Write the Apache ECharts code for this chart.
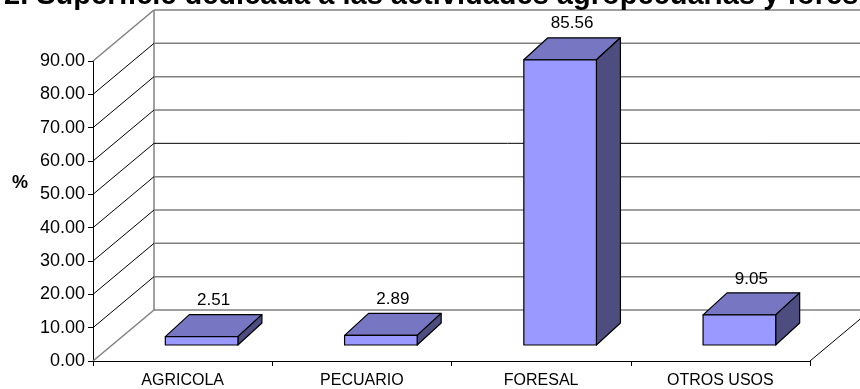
<!DOCTYPE html>
<html>
<head>
    <meta charset="UTF-8">
    <title>Superficie dedicada</title>
    <script src="https://cdn.jsdelivr.net/npm/echarts@6/dist/echarts.min.js"></script>
</head>
<body style="margin:0">
<div id="chart" style="width:860px; height:389px;"></div>
<script>
    // datos
    var categories = ['AGRICOLA', 'PECUARIO', 'FORESAL', 'OTROS USOS'];
    var values = [2.51, 2.89, 85.56, 9.05];
    var yTicks = [0, 10, 20, 30, 40, 50, 60, 70, 80, 90];

    // profundidad de la pared 3D (px)
    var DX = 61, DY = -51;
    // posicion de la barra dentro de la profundidad
    var FX = 19, FY = -16, BX = 24, BY = -22;

    var chart = echarts.init(document.getElementById('chart'), null, {renderer: 'canvas'});

    function wallItem(params, api) {
        var v = api.value(1);
        var bw = api.size([1, 0])[0];
        var p0 = api.coord([0, v]);
        var p3 = api.coord([categories.length - 1, v]);
        var xl = p0[0] - bw / 2, xr = p3[0] + bw / 2, y = p0[1];
        var edge = (v === yTicks[0] || v === yTicks[yTicks.length - 1]);
        var gray = {stroke: '#808080', lineWidth: 1.5};
        var black = {stroke: '#000', lineWidth: 1};
        var children = [
            // la linea de 50 sale negra en el original
            {type: 'line', shape: {x1: xl + DX, y1: y + DY, x2: xr + DX + 40, y2: y + DY},
                style: v === 50 ? black : gray},
            {type: 'line', shape: {x1: xl, y1: y, x2: xl + DX, y2: y + DY},
                style: edge ? gray : black}
        ];
        if (params.dataIndex === 0) {
            var top = api.coord([0, yTicks[yTicks.length - 1]]);
            children.push({type: 'line', shape: {x1: xl + DX, y1: y + DY, x2: xl + DX, y2: top[1] + DY}, style: gray});
            children.push({type: 'line', shape: {x1: xr, y1: y, x2: xr + DX, y2: y + DY}, style: black});
        }
        return {type: 'group', children: children};
    }

    function barItem(params, api) {
        var i = api.value(0), v = api.value(1);
        var base = api.coord([i, 0]);
        var top = api.coord([i, v]);
        var bw = api.size([1, 0])[0];
        var w = bw * 0.405;
        var x0 = base[0] - w / 2 + FX, x1 = x0 + w;
        var yb = base[1] + FY, yt = top[1] + FY;
        var line = {stroke: '#000', lineWidth: 1.2, lineJoin: 'round'};
        return {
            type: 'group',
            children: [
                {type: 'polygon', shape: {points: [[x0, yt], [x1, yt], [x1 + BX, yt + BY], [x0 + BX, yt + BY]]},
                    style: echarts.util.extend({fill: '#7676C2'}, line)},
                {type: 'polygon', shape: {points: [[x1, yt], [x1 + BX, yt + BY], [x1 + BX, yb + BY], [x1, yb]]},
                    style: echarts.util.extend({fill: '#4D4D80'}, line)},
                {type: 'rect', shape: {x: x0, y: yt, width: w, height: yb - yt},
                    style: echarts.util.extend({fill: '#9999FF'}, line)},
                {type: 'text', x: x0 + w / 2 + BX / 2, y: yt + BY - 14,
                    style: {text: v.toFixed(2), fill: '#000', font: '17px Arial, "Liberation Sans"',
                        textAlign: 'center', textVerticalAlign: 'middle'}}
            ]
        };
    }

    var option = {
        backgroundColor: '#fff',
        animation: false,
        title: {
            text: '2. Superficie dedicada a las actividades agropecuarias y forestales',
            left: -1,
            top: -24,
            textStyle: {fontSize: 29, fontWeight: 'bold', color: '#000', fontFamily: 'Arial, "Liberation Sans"'}
        },
        graphic: [{
            type: 'text', left: 12, top: 174,
            style: {text: '%', font: 'bold 18px Arial, "Liberation Sans"', fill: '#000'}
        }],
        grid: {left: 93, right: 50, top: 61, bottom: 27, containLabel: false},
        xAxis: {
            type: 'category',
            data: categories,
            axisLine: {lineStyle: {color: '#000', width: 1}},
            axisTick: {show: true, length: 5, alignWithLabel: false, lineStyle: {color: '#000'}},
            axisLabel: {color: '#000', fontSize: 16, margin: 12, fontFamily: 'Arial, "Liberation Sans"'},
            splitLine: {show: false}
        },
        yAxis: {
            type: 'value',
            min: 0,
            max: 90,
            interval: 10,
            axisLine: {show: true, lineStyle: {color: '#000', width: 1}},
            axisTick: {show: true, length: 5, lineStyle: {color: '#000'}},
            axisLabel: {color: '#000', fontSize: 18, margin: 8, fontFamily: 'Arial, "Liberation Sans"',
                formatter: function (v) { return v.toFixed(2); }},
            splitLine: {show: false}
        },
        series: [
            {
                type: 'custom',
                name: 'pared',
                clip: false,
                silent: true,
                z: 1,
                renderItem: wallItem,
                data: yTicks.map(function (t) { return [0, t]; })
            },
            {
                type: 'custom',
                name: 'superficie',
                clip: false,
                z: 3,
                renderItem: barItem,
                data: values.map(function (v, i) { return [i, v]; })
            }
        ]
    };
    chart.setOption(option);
</script>
</body>
</html>
